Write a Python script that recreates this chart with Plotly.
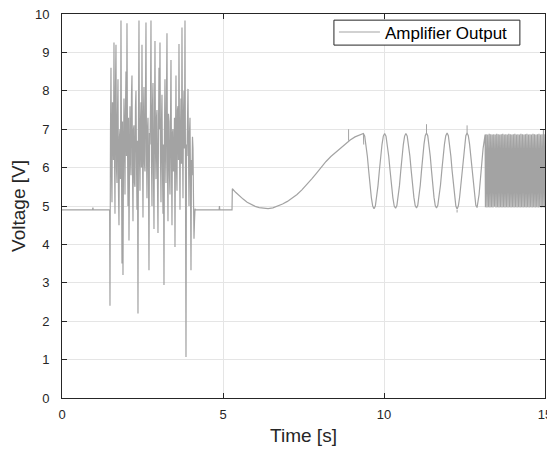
import numpy as np
import plotly.graph_objects as go

# amplifier output, values
# quiet start
t_start = [0.0, 0.95, 0.96, 0.97, 1.48]
v_start = [4.9, 4.9, 4.96, 4.9, 4.9]

# random burst 1.49 s .. 4.13 s (one value per sample)
t_burst = np.linspace(1.49, 4.13, 171)
v_burst = [2.4, 6.9, 8.6, 5.9, 5.1, 7.7, 7.4, 6.2, 9.26, 6.5, 4.8, 8.1, 9.2, 6.0, 5.6, 7.4, 8.3, 5.4, 4.5, 6.8,
           7.0, 5.7, 9.83, 6.4, 3.5, 7.2, 3.2, 6.1, 7.8, 6.9, 5.3, 7.5, 8.5, 6.3, 9.76, 6.8, 5.0, 7.3, 4.1, 5.9,
           7.6, 6.4, 5.8, 7.9, 8.4, 6.0, 4.6, 7.0, 7.1, 5.6, 5.5, 7.6, 8.0, 6.2, 4.9, 6.7, 2.2, 7.1, 9.83, 6.3,
           5.4, 7.2, 7.7, 6.0, 9.2, 6.6, 4.7, 7.4, 8.1, 6.1, 5.9, 7.8, 9.78, 6.4, 5.2, 7.0, 7.3, 5.8, 3.33, 6.9,
           6.6, 7.5, 9.83, 6.2, 5.0, 7.6, 8.2, 5.9, 4.4, 7.1, 9.3, 6.5, 5.7, 7.3, 7.5, 5.6, 4.3, 6.9, 8.6, 7.0,
           9.26, 6.3, 5.1, 7.2, 7.9, 6.0, 4.8, 6.6, 2.94, 7.0, 8.3, 6.4, 5.6, 7.8, 9.5, 6.1, 4.6, 7.4, 7.2, 5.8,
           5.3, 7.1, 8.8, 6.2, 4.5, 6.9, 7.0, 5.9, 6.0, 7.3, 3.93, 6.6, 8.4, 6.0, 5.4, 7.5, 7.6, 6.2, 9.22, 6.8,
           4.9, 7.0, 7.8, 6.1, 9.65, 6.7, 5.2, 7.4, 8.0, 6.5, 9.83, 5.8, 1.07, 6.6, 6.3, 7.2, 8.05, 6.4, 5.0, 6.9,
           7.3, 5.6, 3.33, 6.2, 5.8, 6.8, 6.5, 5.2, 4.15, 4.6, 4.93]

# quiet gap
t_gap = [4.14, 4.88, 4.89, 4.90, 5.28]
v_gap = [4.9, 4.9, 5.0, 4.9, 4.9]

# slow sweep 5.29 s .. 9.36 s
t_sweep = [5.29, 5.4, 5.5, 5.625, 5.75, 5.875, 6.0, 6.125, 6.25, 6.4, 6.55, 6.7, 6.85, 7.0,
           7.15, 7.3, 7.45, 7.6, 7.75, 7.9, 8.05, 8.2, 8.35, 8.5, 8.65, 8.8, 8.95, 9.1, 9.23]
v_sweep = [5.45, 5.35, 5.27, 5.18, 5.1, 5.04, 4.99, 4.96, 4.94, 4.93, 4.95, 4.99, 5.05, 5.12,
           5.2, 5.3, 5.42, 5.55, 5.7, 5.85, 6.02, 6.16, 6.29, 6.4, 6.5, 6.62, 6.72, 6.8, 6.85]

# sine section: peak / trough times, then 8 samples per half cycle
t_knots = [9.36, 9.69, 10.02, 10.36, 10.68, 11.01, 11.32, 11.63, 11.96, 12.27, 12.58, 12.89]
v_osc = [6.89, 6.82, 6.6, 6.29, 5.91, 5.53, 5.22, 5.0,
         4.93, 5.0, 5.22, 5.53, 5.91, 6.29, 6.6, 6.82,
         6.89, 6.82, 6.6, 6.29, 5.91, 5.53, 5.22, 5.0,
         4.94, 5.01, 5.22, 5.53, 5.91, 6.29, 6.6, 6.82,
         6.89, 6.82, 6.61, 6.3, 5.92, 5.54, 5.23, 5.01,
         4.95, 5.02, 5.23, 5.54, 5.92, 6.3, 6.61, 6.83,
         6.9, 6.83, 6.61, 6.3, 5.92, 5.54, 5.23, 5.01,
         4.95, 5.02, 5.23, 5.54, 5.92, 6.3, 6.61, 6.83,
         6.9, 6.83, 6.61, 6.3, 5.92, 5.54, 5.23, 5.0,
         4.92, 5.0, 5.22, 5.53, 5.92, 6.3, 6.61, 6.83,
         6.9, 6.83, 6.61, 6.3, 5.92, 5.54, 5.23, 5.02,
         4.96, 5.3, 5.9, 6.5]
t_rise_end = 13.14
v_rise_end = 6.86

# short glitches on the smooth part
t_glitch = [8.9, 8.9, None, 9.36, 9.37, None, 11.32, 11.32, None, 12.58, 12.58, None, 12.27, 12.27]
v_glitch = [6.7, 7.0, None, 6.89, 6.6, None, 6.9, 7.13, None, 6.9, 7.1, None, 4.9, 4.83]

# fast oscillation 13.15 s .. 15 s
t_fast = np.linspace(13.15, 15.0, 80)
v_fast = [4.97, 6.87, 4.96, 6.86, 4.97, 6.88, 4.96, 6.87, 4.97, 6.86,
          4.96, 6.87, 4.98, 6.86, 4.96, 6.88, 4.97, 6.87, 4.96, 6.86,
          4.97, 6.87, 4.96, 6.88, 4.97, 6.86, 4.96, 6.87, 4.97, 6.86,
          4.96, 6.88, 4.97, 6.87, 4.96, 6.86, 4.97, 6.87, 4.96, 6.88,
          4.97, 6.86, 4.96, 6.87, 4.97, 6.86, 4.96, 6.88, 4.97, 6.87,
          4.96, 6.86, 4.97, 6.87, 4.96, 6.88, 4.97, 6.86, 4.96, 6.87,
          4.97, 6.86, 4.96, 6.88, 4.97, 6.87, 4.96, 6.86, 4.97, 6.87,
          4.96, 6.88, 4.97, 6.86, 4.96, 6.87, 4.97, 7.0, 4.96, 6.87]

# sample times of the sine part: 8 per half cycle between the knots
t_osc = []
for a, b in zip(t_knots[:-1], t_knots[1:]):
    t_osc += list(np.linspace(a, b, 9)[:-1])
t_osc += list(np.linspace(t_knots[-1], t_rise_end, 5)[:-1])

t_all = t_start + list(t_burst) + t_gap + t_sweep + t_osc + [t_rise_end] + list(t_fast)
v_all = v_start + v_burst + v_gap + v_sweep + v_osc + [v_rise_end] + v_fast

grey = "#a3a3a3"
dark = "#262626"

fig = go.Figure()
fig.add_trace(go.Scatter(x=t_all, y=v_all, mode="lines", name="Amplifier Output",
                         line=dict(color=grey, width=1.2)))
fig.add_trace(go.Scatter(x=t_glitch, y=v_glitch, mode="lines",
                         line=dict(color=grey, width=1), showlegend=False))

# legend frame (MATLAB style, tight box)
fig.add_shape(type="rect", xref="paper", yref="paper", x0=0.563, x1=0.948, y0=0.919, y1=0.984,
              line=dict(color=dark, width=1), fillcolor="white", layer="above")

axis_style = dict(showline=True, linecolor=dark, linewidth=1, mirror="ticks",
                  ticks="inside", ticklen=5, tickcolor=dark, automargin=False,
                  ticklabeloverflow="allow",
                  showgrid=True, gridcolor="#e5e5e5", gridwidth=1, zeroline=False,
                  tickfont=dict(size=13, color=dark))

# page body has an 8px margin, so the margins are shifted by that amount
fig.update_layout(
    width=555, height=450,
    margin=dict(l=54, r=18, t=6, b=60),
    paper_bgcolor="white", plot_bgcolor="white",
    font=dict(family="Liberation Sans, Arial, sans-serif", color=dark),
    legend=dict(x=0.563, y=0.952, xanchor="left", yanchor="middle", itemwidth=41,
                borderwidth=0, bgcolor="rgba(0,0,0,0)",
                font=dict(size=17, color="#000000")),
)
fig.update_xaxes(range=[0, 15], tickvals=[0, 5, 10, 15], ticklabelstandoff=4,
                 title=dict(text="Time [s]", font=dict(size=19), standoff=8), **axis_style)
# labels sit ~8px left of the axis: small negative standoff plus a padding suffix
fig.update_yaxes(range=[0, 10], dtick=1, ticklabelstandoff=-2, ticksuffix="\u00a0\u00a0\u00a0",
                 title=dict(text="Voltage [V]", font=dict(size=19), standoff=12), **axis_style)

fig.write_html("out.html")
